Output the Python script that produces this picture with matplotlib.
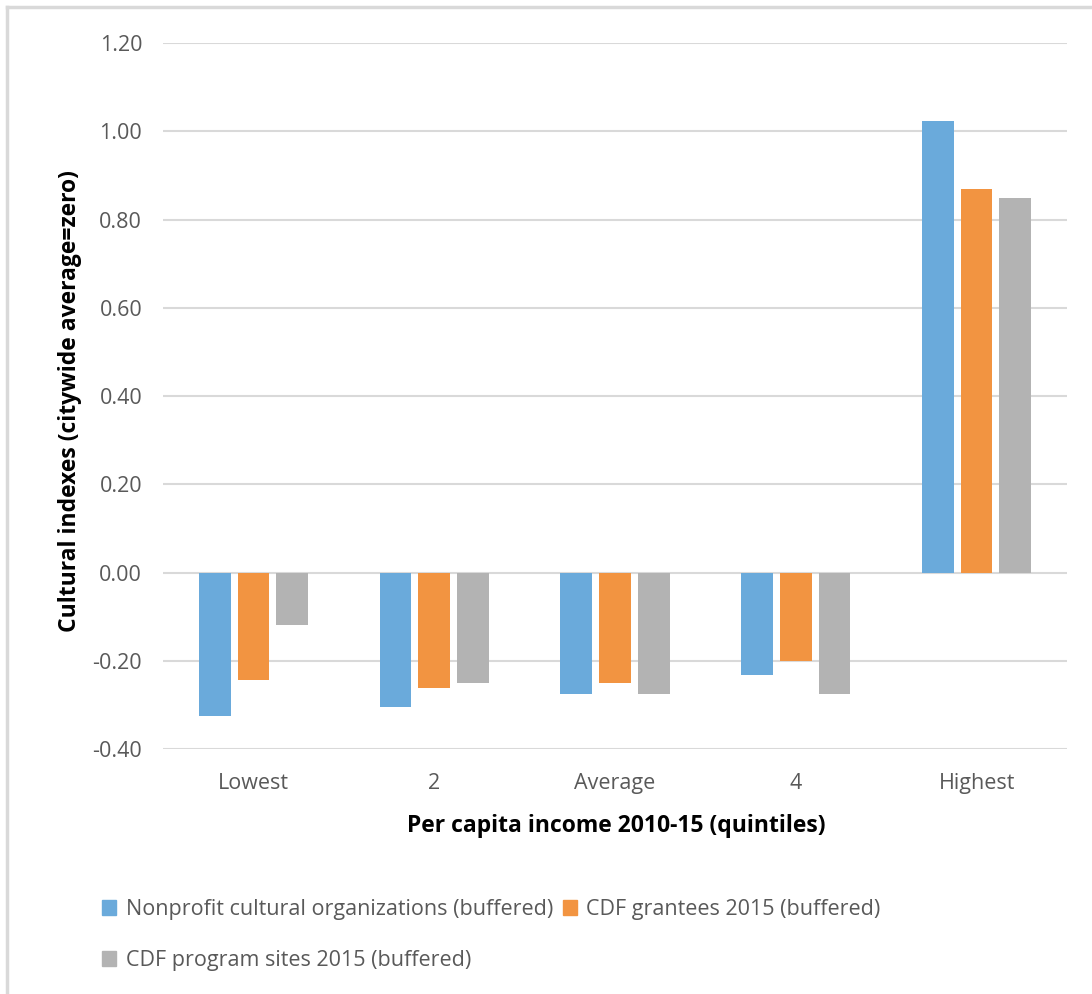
import matplotlib.pyplot as plt
from matplotlib.lines import Line2D
from matplotlib.patches import Patch
import numpy as np

plt.rcParams['font.family'] = ['Open Sans', 'DejaVu Sans']

# per capita income quintiles
quintiles = ['Lowest', '2', 'Average', '4', 'Highest']

nonprofit = [-0.325, -0.305, -0.275, -0.232, 1.024]
grantees = [-0.243, -0.261, -0.250, -0.200, 0.869]
program_sites = [-0.119, -0.249, -0.275, -0.275, 0.850]

series_names = ['Nonprofit cultural organizations (buffered)',
                'CDF grantees 2015 (buffered)',
                'CDF program sites 2015 (buffered)']
colores = ['#6aaadb', '#f29441', '#b3b3b3']

yticks = np.arange(-0.4, 1.21, 0.2)

W, H = 1092, 994
fig = plt.figure(figsize=(W / 100, H / 100), dpi=100)
ax = fig.add_axes([163 / W, 1 - 749.3 / H, 904 / W, 706.3 / H])

x = np.arange(len(quintiles))
ancho = 0.175
paso = 0.214
for i, (vals, col) in enumerate(zip([nonprofit, grantees, program_sites], colores)):
    ax.bar(x + (i - 1) * paso, vals, width=ancho, color=col, zorder=3)

ax.set_xlim(-0.5, len(quintiles) - 0.5)
ax.set_ylim(-0.4, 1.2)
ax.set_yticks(yticks)
ax.set_yticklabels([f'{v:.2f}' for v in yticks])
ax.set_xticks(x)
ax.set_xticklabels(quintiles)
ax.tick_params(length=0, labelsize=15.5, colors='#595959')
ax.tick_params(axis='y', pad=15)
ax.tick_params(axis='x', pad=17)
ax.grid(axis='y', color='#d9d9d9', linewidth=1.5, zorder=0)
for s in ax.spines.values():
    s.set_visible(False)

# titulos de los ejes
fig.text(70 / W, 1 - 401 / H, 'Cultural indexes (citywide average=zero)',
         rotation=90, ha='center', va='center', fontsize=16.5,
         fontweight='bold', color='black')
fig.text(616 / W, 1 - 826 / H, 'Per capita income 2010-15 (quintiles)',
         ha='center', va='center', fontsize=16.5, fontweight='bold',
         color='black')

# leyenda en dos filas
handles = [Patch(color=colores[0]), Patch(color=colores[2]), Patch(color=colores[1])]
labels = [series_names[0], series_names[2], series_names[1]]
fig.legend(handles, labels, ncol=2, loc='upper left',
           bbox_to_anchor=(102 / W, 1 - 899 / H), frameon=False, fontsize=15.5,
           labelcolor='#595959', handlelength=0.65, handleheight=0.65,
           handletextpad=0.45, columnspacing=0.45, labelspacing=1.4,
           borderpad=0, borderaxespad=0)

# borde gris claro
fig.add_artist(Line2D([7 / W, 1], [1 - 7 / H, 1 - 7 / H],
                      color='#d9d9d9', linewidth=2.5))
fig.add_artist(Line2D([7 / W, 7 / W], [0, 1 - 7 / H],
                      color='#d9d9d9', linewidth=2.5))

fig.savefig('out.png', dpi=100)
